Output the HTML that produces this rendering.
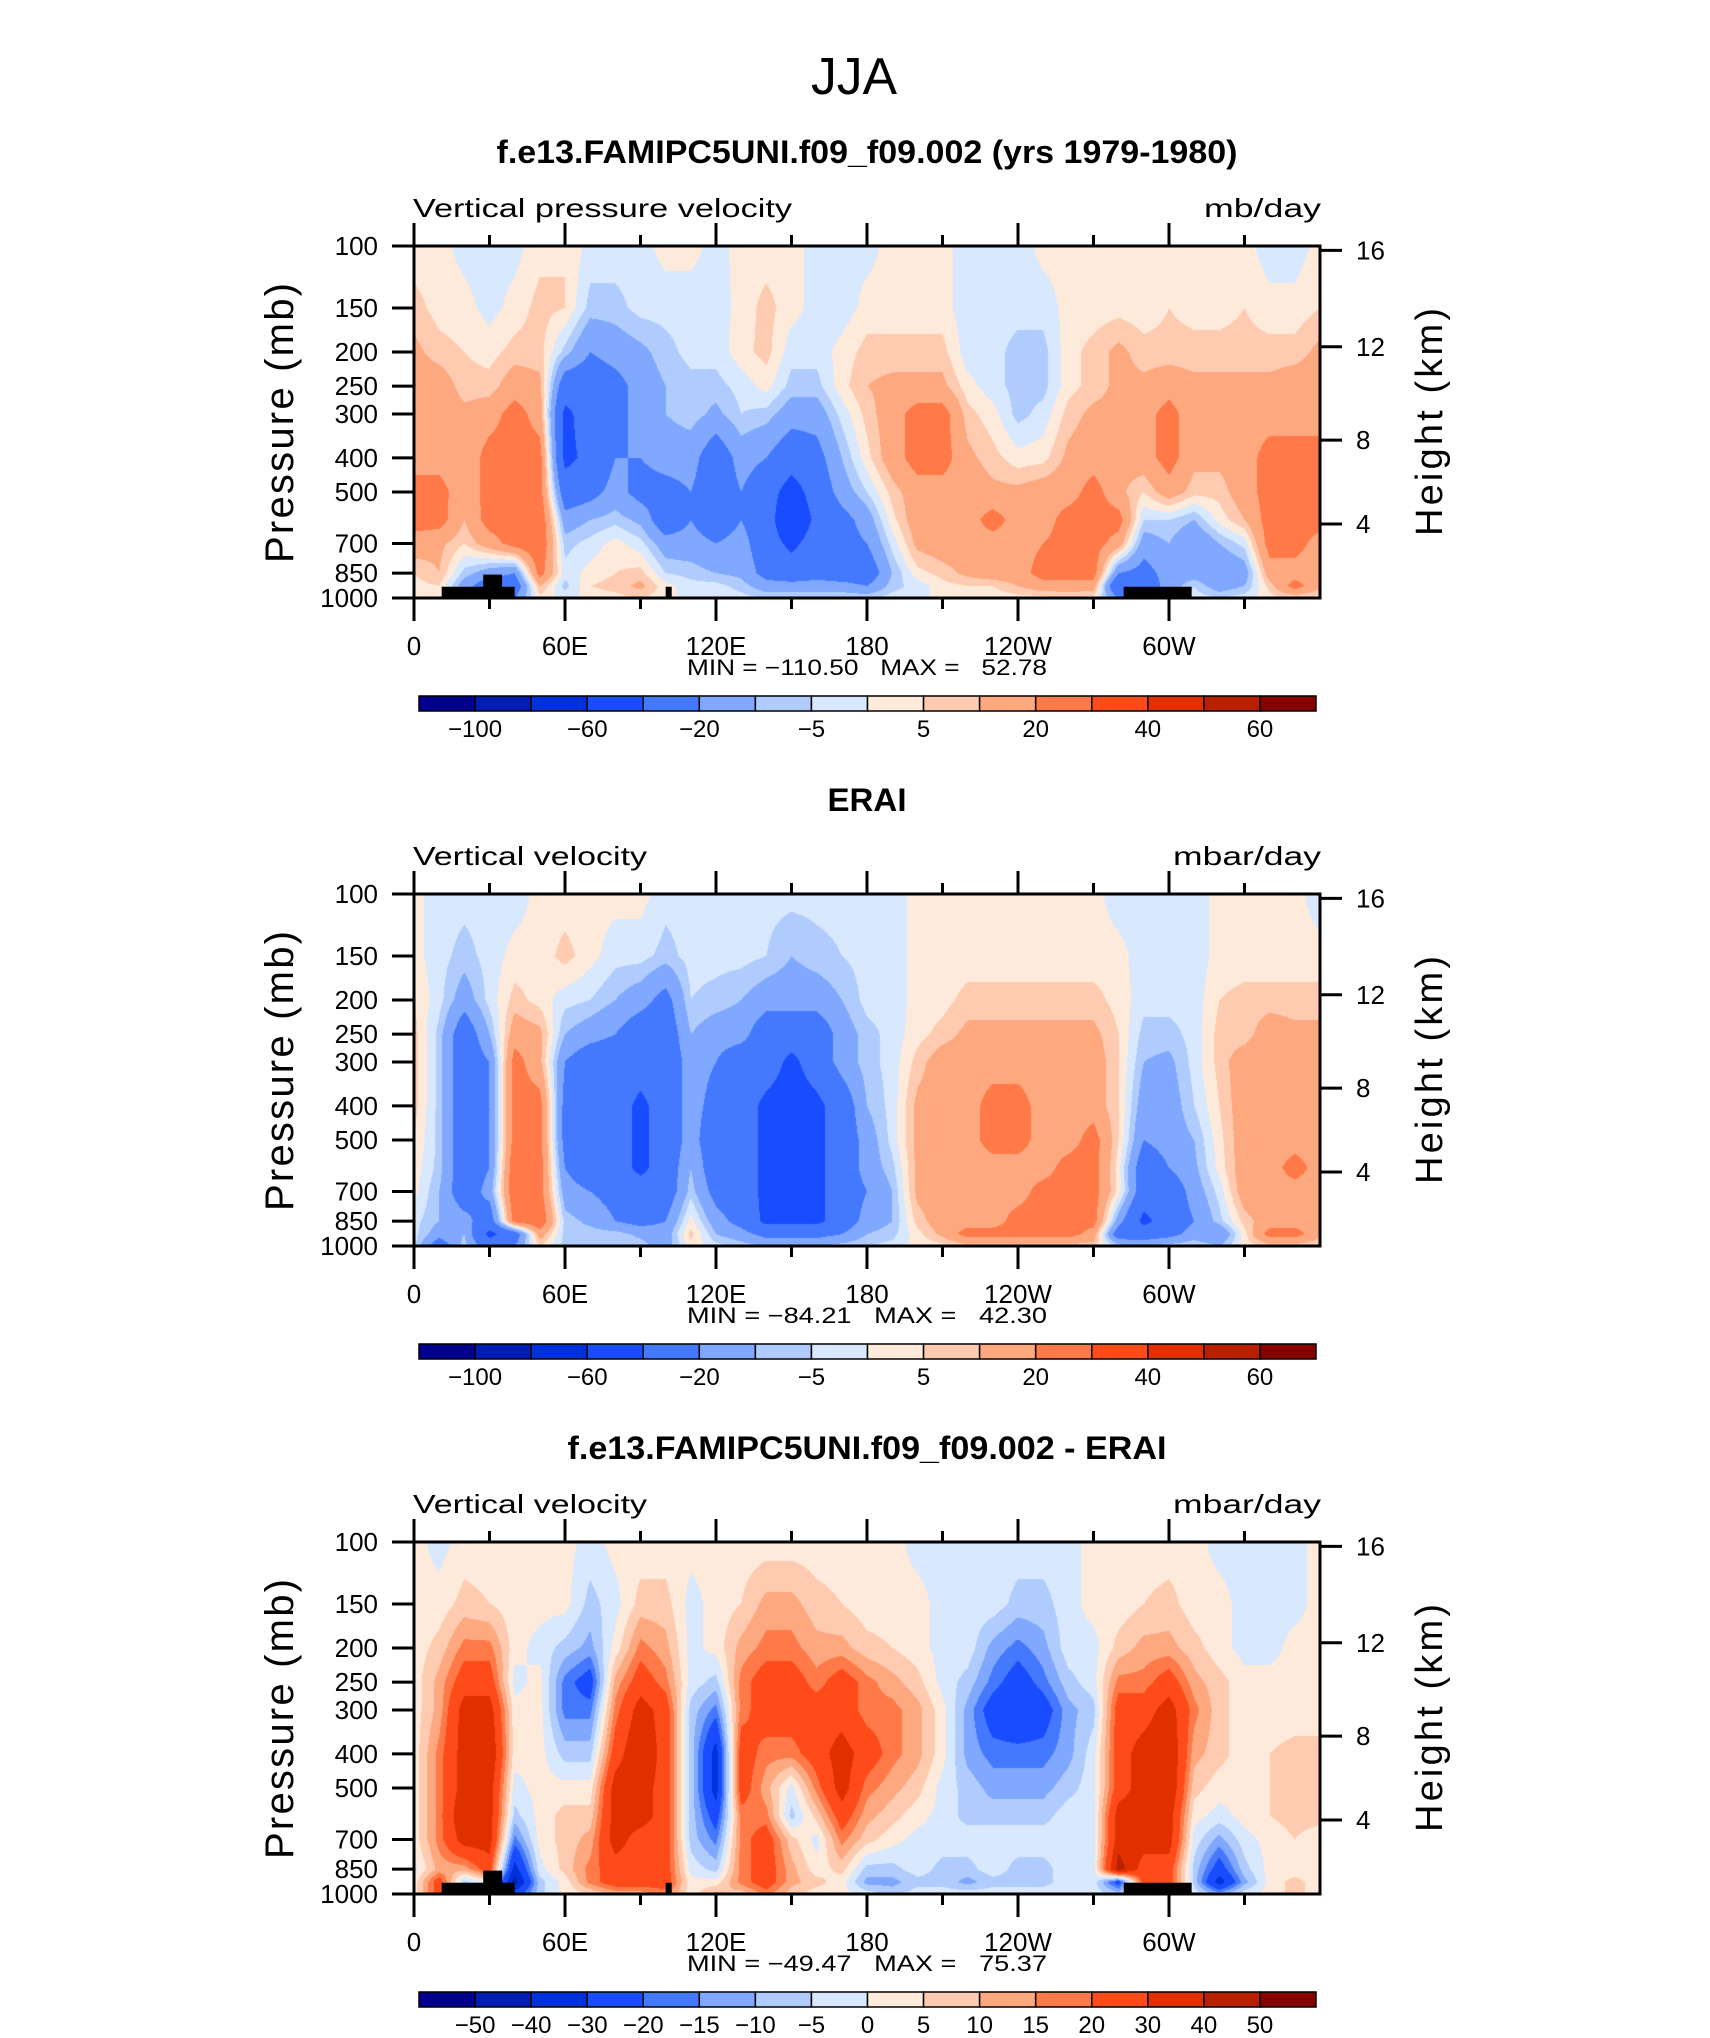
<!DOCTYPE html>
<html><head><meta charset="utf-8"><title>JJA vertical velocity</title>
<style>
html,body{margin:0;padding:0;background:#fff;}
#wrap{position:relative;width:1710px;height:2038px;overflow:hidden;background:#fff;}
canvas{position:absolute;left:414px;width:906px;height:352px;}
svg{position:absolute;left:0;top:0;}
text{font-family:"Liberation Sans",sans-serif;fill:#000;}
.pre{white-space:pre;}
</style></head>
<body>
<div id="wrap">
<canvas id="c0" width="906" height="352" style="top:246px"></canvas>
<canvas id="c1" width="906" height="352" style="top:894px"></canvas>
<canvas id="c2" width="906" height="352" style="top:1542px"></canvas>
<svg id="chart" width="1710" height="2038"></svg>
</div>
<script>
// ---- data ----
const lons = [0,10,20,30,40,50,60,70,80,90,100,110,120,130,140,150,160,170,180,190,200,210,220,230,240,250,260,270,280,290,300,310,320,330,340,350,360];
const levels = [100,150,200,250,300,400,500,600,700,850,925,1000];
const pTicks = [100,150,200,250,300,400,500,700,850,1000];
const hTicks = [16,12,8,4];
const xTickLons = [0,60,120,180,240,300];
const xTickLabels = ["0","60E","120E","180","120W","60W"];
const bounds1 = [-100,-80,-60,-40,-20,-10,-5,0,5,10,20,30,40,50,60];
const cbLabels1 = ["-100","","-60","","-20","","-5","","5","","20","","40","","60"];
const bounds3 = [-50,-40,-30,-20,-15,-10,-5,0,5,10,15,20,30,40,50];
const cbLabels3 = ["-50","-40","-30","-20","-15","-10","-5","0","5","10","15","20","30","40","50"];
const colors = ["#00008c","#001eb4","#0032dc","#1a4cff","#4479ff","#80a8ff","#b0ccff","#d8e8fe","#feeadb","#fecbb0","#fea880","#ff7a48","#ff4a1a","#e03000","#b82000","#880000"];
const landW = [11,27.5,100,282];
const landE = [40,35,102.4,309];
const landP = [929,858,929,929];
const modelData = [
[2,7,12,15,15,15,25,25,15,5,3,2],
[2,3,7,15,15,15,25,25,12,10,5,2],
[-2,2,5,7,12,12,12,10,5,-7,-15,0],
[-3,-2,3,7,15,25,25,25,15,-15,-30,-30],
[-2,2,7,15,25,25,25,25,25,-20,-30,-20],
[3,7,7,12,15,25,25,30,30,25,10,3],
[5,5,-7,-30,-45,-45,-30,-15,-7,-3,-7,-2],
[-2,-7,-20,-30,-30,-35,-25,-10,-3,2,5,2],
[-2,-7,-15,-25,-25,-20,-15,-7,2,5,7,3],
[-2,-3,-12,-15,-15,-20,-25,-12,-3,7,12,5],
[2,-3,-7,-10,-10,-15,-25,-30,-15,-5,2,2],
[2,-3,-3,-7,-7,-15,-20,-20,-15,-7,-3,-2],
[-2,-3,-3,-7,-12,-30,-30,-30,-20,-10,-3,-2],
[2,2,3,-3,-5,-15,-20,-20,-15,-12,-7,-3],
[2,7,7,2,-7,-20,-30,-30,-30,-25,-15,-5],
[2,2,-3,-7,-15,-30,-50,-60,-45,-30,-15,-5],
[-2,-2,-3,-7,-15,-25,-30,-35,-30,-25,-15,-5],
[-2,-3,2,3,-3,-10,-15,-25,-25,-30,-15,-5],
[-2,2,7,10,7,3,-5,-15,-20,-30,-20,-5],
[2,2,7,12,15,15,7,3,-3,-10,-7,-3],
[2,2,7,12,25,25,15,15,12,3,-3,-2],
[2,2,7,12,25,25,15,15,15,7,3,2],
[-3,-3,-3,2,7,12,15,15,15,12,5,2],
[-3,-3,-3,-3,2,7,12,25,15,15,5,2],
[-3,-3,-7,-7,-7,2,12,15,15,15,10,3],
[2,-3,-7,-7,-3,3,15,15,20,25,15,3],
[2,2,3,3,7,12,15,25,25,25,15,5],
[2,2,7,7,12,15,25,25,25,25,15,3],
[2,3,12,12,12,12,12,25,15,-20,-40,-20],
[2,2,7,12,15,15,5,-5,-15,-25,-30,-20],
[2,5,7,15,25,25,15,-5,-10,-15,-15,-10],
[2,3,7,12,12,12,7,-10,-20,-15,-5,-2],
[2,3,7,12,15,12,7,2,-10,-20,-15,-5],
[2,5,7,12,15,15,15,10,-3,-15,-10,-2],
[-3,2,7,12,15,25,25,25,25,15,7,3],
[-3,2,7,15,15,25,25,25,25,15,25,5],
[2,5,12,15,15,25,25,25,15,12,12,3]
];
const eraiData = [
[2,2,5,7,7,7,5,3,2,-3,-3,-3],
[-3,-3,-3,-7,-7,-7,-7,-7,-10,-10,-15,-30],
[-3,-7,-15,-30,-30,-30,-30,-30,-30,-15,-10,-7],
[-3,-3,-3,-10,-20,-20,-20,-20,-15,-30,-45,-30],
[-3,2,7,15,25,25,25,30,30,25,-30,-20],
[2,2,3,12,12,25,25,25,25,30,15,5],
[2,7,-3,-10,-20,-25,-25,-20,-15,-7,-7,-7],
[2,2,-5,-15,-30,-30,-30,-30,-20,-12,-7,-7],
[2,-3,-10,-20,-30,-30,-30,-30,-25,-20,-7,-5],
[2,-3,-15,-30,-30,-45,-45,-45,-30,-25,-12,-7],
[-3,-7,-25,-30,-30,-30,-30,-30,-30,-20,-15,-15],
[-3,-3,-5,-10,-15,-15,-15,-10,-7,2,7,3],
[-3,-3,-7,-15,-20,-25,-30,-30,-25,-15,-10,-3],
[-3,-3,-10,-15,-30,-30,-30,-30,-30,-25,-15,-7],
[-3,-5,-15,-30,-30,-45,-45,-45,-45,-45,-25,-10],
[-3,-10,-15,-30,-45,-50,-60,-60,-45,-45,-25,-10],
[-3,-7,-15,-30,-30,-45,-45,-45,-45,-45,-25,-10],
[-3,-5,-10,-15,-15,-30,-30,-30,-30,-30,-20,-7],
[-3,-3,-3,-7,-7,-10,-15,-15,-20,-15,-10,-5],
[-3,-3,-3,-3,-3,-3,-3,-7,-10,-10,-7,-3],
[2,2,2,3,7,12,12,12,12,7,3,2],
[2,2,3,7,15,15,15,15,15,15,12,3],
[2,2,7,12,15,15,15,15,15,15,25,7],
[2,2,7,12,15,25,25,15,15,15,25,7],
[2,2,7,12,15,25,25,15,15,25,25,7],
[2,2,7,12,15,15,15,15,25,25,25,7],
[2,2,7,12,15,15,15,25,25,25,25,7],
[2,2,7,12,15,15,25,25,25,25,15,7],
[-3,2,3,5,5,5,5,2,3,-15,-30,-7],
[-3,-3,-3,-7,-10,-15,-20,-30,-30,-45,-30,-10],
[-3,-3,-3,-7,-12,-15,-15,-20,-30,-30,-25,-7],
[-3,-3,-3,-3,-3,-5,-10,-12,-15,-20,-15,-5],
[2,2,5,7,7,5,3,2,-3,-7,-20,-10],
[2,2,7,7,15,15,15,15,15,7,3,2],
[2,2,7,15,15,15,15,15,15,15,25,7],
[2,2,7,12,15,15,15,25,15,15,25,7],
[-3,2,7,12,15,15,15,15,15,15,12,5]
];
const diffData = [
[2,2,2,2,2,2,2,2,2,-2,2,2],
[-2,2,7,12,12,17,17,17,17,12,25,25],
[2,7,17,25,35,35,35,40,35,12,-7,-7],
[2,5,17,25,35,40,35,35,35,25,2,2],
[2,2,2,-2,2,2,-2,-7,-17,-35,-45,-25],
[2,2,-2,2,2,2,2,2,2,-2,-7,-7],
[2,2,-7,-17,-17,-7,2,7,7,7,2,2],
[-2,-7,-12,-25,-17,-7,2,7,12,17,17,5],
[2,-2,2,12,17,25,35,35,35,25,25,12],
[2,7,17,25,35,40,35,35,25,25,25,12],
[2,7,12,17,25,25,25,25,25,25,25,17],
[2,-2,-2,-2,-7,-7,-7,-7,-7,-2,2,2],
[2,2,2,-7,-17,-35,-35,-25,-17,-7,2,12],
[2,5,12,17,17,25,25,17,17,17,17,7],
[2,12,17,25,25,17,12,17,25,25,25,17],
[2,12,17,25,25,17,-2,-7,7,12,12,7],
[2,7,12,17,25,25,17,7,-2,2,7,2],
[2,5,12,25,25,35,35,25,17,7,2,2],
[2,2,7,17,17,25,17,12,7,-7,-12,-2],
[2,2,5,12,17,17,12,7,2,-7,-12,-7],
[-2,2,2,7,12,12,7,2,-2,-2,-7,-2],
[-2,-2,-2,-2,2,2,-2,-2,-2,-7,-7,-2],
[-2,-2,-2,-7,-12,-12,-7,-7,-2,-7,-12,-2],
[-2,-2,-12,-17,-25,-17,-12,-7,-2,-2,-7,-2],
[-2,-7,-17,-25,-30,-17,-12,-7,-2,-7,-7,-2],
[-2,-7,-12,-17,-25,-17,-12,-7,-2,-7,-7,-2],
[-2,-2,-2,-7,-12,-12,-7,-2,-2,-2,-2,-2],
[2,2,-2,-2,-7,-2,-2,-2,-2,-2,-2,-2],
[2,2,7,17,25,25,25,35,35,45,-25,-7],
[2,5,12,17,25,35,35,35,35,25,25,7],
[2,7,12,25,35,40,40,35,35,25,25,7],
[2,2,7,12,17,12,7,2,-2,-7,-7,-2],
[-2,2,2,7,7,7,2,-2,-12,-25,-35,-12],
[-2,-2,-2,2,2,2,2,2,-2,-7,-12,-2],
[-2,-2,-2,2,2,5,5,5,2,2,2,2],
[-2,-2,2,2,2,7,7,7,5,2,7,7],
[2,2,2,2,2,7,7,7,2,2,2,2]
];
const titles = ["f.e13.FAMIPC5UNI.f09_f09.002 (yrs 1979-1980)","ERAI","f.e13.FAMIPC5UNI.f09_f09.002 - ERAI"];
const leftStrings = ["Vertical pressure velocity","Vertical velocity","Vertical velocity"];
const rightStrings = ["mb/day","mbar/day","mbar/day"];
const minVals = ["\u2212110.50","\u221284.21","\u221249.47"];
const maxVals = ["52.78","42.30","75.37"];

// ---- layout ----
const L = 414, W = 906, H = 352;
const tops = [246, 894, 1542];
const NS = 'http://www.w3.org/2000/svg';
const svg = document.getElementById('chart');
function mk(tag, attrs, parent) {
  const e = document.createElementNS(NS, tag);
  for (const k in attrs) e.setAttribute(k, attrs[k]);
  (parent || svg).appendChild(e);
  return e;
}
function xScale(lon) { return L + lon / 360 * W; }
function yScale(top, p) { return top + Math.log10(p / 100) * H; }
function hToP(km) {
  const z = km * 1000;
  if (z <= 11000) return 1013.25 * Math.pow(1 - 2.25577e-5 * z, 5.25588);
  return 226.32 * Math.exp(-(z - 11000) / 6341.6);
}
function colorIndex(v, b) { let i = 0; while (i < b.length && v >= b[i]) i++; return i; }
function hexRGB(h) { return [parseInt(h.substr(1,2),16), parseInt(h.substr(3,2),16), parseInt(h.substr(5,2),16)]; }
const rgb = colors.map(hexRGB);

function drawField(canvasId, data, b) {
  const cv = document.getElementById(canvasId);
  const ctx = cv.getContext('2d');
  const img = ctx.createImageData(W, H);
  const logLev = levels.map(p => Math.log10(p));
  for (let py = 0; py < H; py++) {
    const lp = 2 + (py + 0.5) / H;
    let i = 0;
    while (i < levels.length - 2 && lp > logLev[i + 1]) i++;
    const t = Math.min(1, Math.max(0, (lp - logLev[i]) / (logLev[i + 1] - logLev[i])));
    for (let px = 0; px < W; px++) {
      const lon = (px + 0.5) / W * 360;
      let j = Math.min(lons.length - 2, Math.floor(lon / 10));
      const s = (lon - lons[j]) / (lons[j + 1] - lons[j]);
      const v = (1 - s) * ((1 - t) * data[j][i] + t * data[j][i + 1]) + s * ((1 - t) * data[j + 1][i] + t * data[j + 1][i + 1]);
      const c = rgb[colorIndex(v, b)];
      const o = (py * W + px) * 4;
      img.data[o] = c[0]; img.data[o + 1] = c[1]; img.data[o + 2] = c[2]; img.data[o + 3] = 255;
    }
  }
  ctx.putImageData(img, 0, 0);
}

const fieldData = [modelData, eraiData, diffData];
const fieldBounds = [bounds1, bounds1, bounds3];
const fieldLabels = [cbLabels1, cbLabels1, cbLabels3];
const showLand = [true, false, true];

const jja = mk('text', {x:854, y:94, 'font-size':52, 'text-anchor':'middle', textLength:86, lengthAdjust:'spacingAndGlyphs'});
jja.textContent = 'JJA';



for (let k = 0; k < 3; k++) {
  drawField('c' + k, fieldData[k], fieldBounds[k]);
  const top = tops[k], bot = top + H;
  const g = mk('g', {});
  
  

  if (showLand[k]) {
    for (let m = 0; m < landW.length; m++) {
      const r = mk('rect', {x:xScale(landW[m]), y:yScale(top, landP[m]), width:xScale(landE[m]) - xScale(landW[m]), height:bot - yScale(top, landP[m]), fill:'#000'}, g);
      
      
    }
  }

  const title = mk('text', {x:867, y:top - 83, 'font-size':32, 'font-weight':'bold', 'text-anchor':'middle'}, g);
  if (k === 0) { title.setAttribute('textLength', 741); title.setAttribute('lengthAdjust', 'spacingAndGlyphs'); }
  if (k === 1) { title.setAttribute('textLength', 79); title.setAttribute('lengthAdjust', 'spacingAndGlyphs'); }
  if (k === 2) { title.setAttribute('textLength', 599); title.setAttribute('lengthAdjust', 'spacingAndGlyphs'); }
  title.textContent = titles[k];
  
  

  const ls = mk('text', {x:413, y:top - 29, 'font-size':26, textLength: k === 0 ? 379 : 234, lengthAdjust:'spacingAndGlyphs'}, g);
  ls.textContent = leftStrings[k];
  
  
  const rs = mk('text', {x:1321, y:top - 29, 'font-size':26, 'text-anchor':'end', textLength: k === 0 ? 117 : 148, lengthAdjust:'spacingAndGlyphs'}, g);
  rs.textContent = rightStrings[k];
  
  

  const frame = mk('rect', {x:L, y:top, width:W, height:H, fill:'none', stroke:'#000', 'stroke-width':3}, g);
  
  

  for (let lon = 0; lon <= 330; lon += 30) {
    const major = lon % 60 === 0;
    const x = xScale(lon);
    const len = major ? 23 : 11;
    const t1 = mk('line', {x1:x, x2:x, y1:top, y2:top - len, stroke:'#000', 'stroke-width':3}, g);
    
    
    const t2 = mk('line', {x1:x, x2:x, y1:bot, y2:bot + len, stroke:'#000', 'stroke-width':3}, g);
    
    
  }
  for (let m = 0; m < xTickLons.length; m++) {
    const tx = mk('text', {x:xScale(xTickLons[m]), y:bot + 57, 'font-size':26, 'text-anchor':'middle'}, g);
    tx.textContent = xTickLabels[m];
    
    
  }
  for (const p of pTicks) {
    const y = yScale(top, p);
    const t = mk('line', {x1:392, x2:L, y1:y, y2:y, stroke:'#000', 'stroke-width':3}, g);
    
    
    const tx = mk('text', {x:378, y:y + 9, 'font-size':26, 'text-anchor':'end'}, g);
    tx.textContent = String(p);
    
    
  }
  for (const h of hTicks) {
    const y = yScale(top, hToP(h));
    const t = mk('line', {x1:L + W, x2:L + W + 22, y1:y, y2:y, stroke:'#000', 'stroke-width':3}, g);
    
    
    const tx = mk('text', {x:1356, y:y + 9, 'font-size':26}, g);
    tx.textContent = String(h);
    
    
  }
  const yt = mk('text', {x:0, y:0, 'font-size':40, 'text-anchor':'middle', textLength:280, lengthAdjust:'spacing', transform:'translate(293,' + (top + 177) + ') rotate(-90)'}, g);
  yt.textContent = 'Pressure (mb)';
  
  
  const yt2 = mk('text', {x:0, y:0, 'font-size':38, 'text-anchor':'middle', textLength:228, lengthAdjust:'spacing', transform:'translate(1442,' + (top + 176) + ') rotate(-90)'}, g);
  yt2.textContent = 'Height (km)';
  
  

  const mm = mk('text', {x:867, y:bot + 77, 'font-size':22, 'text-anchor':'middle', textLength:360, lengthAdjust:'spacingAndGlyphs', 'class':'pre'}, g);
  mm.textContent = 'MIN = ' + minVals[k] + '   MAX =   ' + maxVals[k];
  
  

  const cbTop = bot + 98, cbX = 419, cbW = 897, nb = 16, bw = cbW / nb;
  const cb = mk('g', {}, g);
  
  
  for (let m = 0; m < nb; m++) {
    const r = mk('rect', {x:cbX + m * bw, y:cbTop, width:bw, height:15, fill:colors[m], stroke:'#000', 'stroke-width':1.5}, cb);
    
    
  }
  const lab = fieldLabels[k];
  for (let m = 0; m < lab.length; m++) {
    if (!lab[m]) continue;
    const tx = mk('text', {x:cbX + (m + 1) * bw, y:cbTop + 41, 'font-size':24, 'text-anchor':'middle'}, cb);
    tx.textContent = lab[m].replace('-', '\u2212');
    
    
  }
}
</script>
</body></html>
